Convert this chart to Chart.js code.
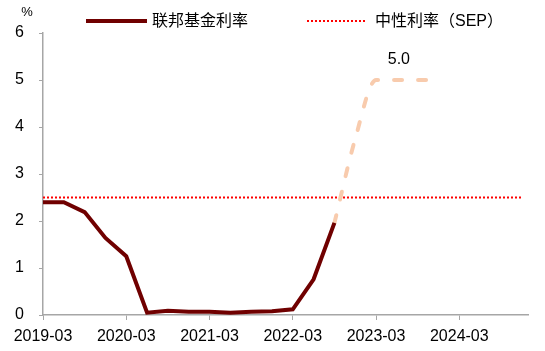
<!DOCTYPE html>
<html>
<head>
<meta charset="utf-8">
<script src="https://cdn.jsdelivr.net/npm/chart.js@4"></script>
<style>
    body { margin: 0; background: #fff; }
    #wrap { position: relative; width: 545px; height: 351px; font-family: "Liberation Sans", "Noto Sans CJK SC", sans-serif; }
    canvas { position: absolute; left: 0; top: 0; }
    .leg { position: absolute; font-size: 16px; color: #000; line-height: 20px; white-space: nowrap; }
    .swatch { position: absolute; }
</style>
</head>
<body>
<div id="wrap">
    <canvas id="chart" width="545" height="351"></canvas>
    <div class="swatch" style="left:86px; top:19px; width:61px; height:4px; background:#700000;"></div>
    <div class="leg" style="left:152px; top:11px;">联邦基金利率</div>
    <div class="swatch" style="left:307px; top:20px; width:58px; height:0; border-top:2px dotted #ff0000;"></div>
    <div class="leg" style="left:375px; top:11px;">中性利率（SEP）</div>
</div>
<script>
const quarters = [
    '2019-03', '2019-06', '2019-09', '2019-12',
    '2020-03', '2020-06', '2020-09', '2020-12',
    '2021-03', '2021-06', '2021-09', '2021-12',
    '2022-03', '2022-06', '2022-09', '2022-12',
    '2023-03', '2023-06', '2023-09', '2023-12',
    '2024-03', '2024-06', '2024-09', '2024-12'
];
// 联邦基金利率 (实际)
const fedRate = [2.4, 2.4, 2.19, 1.64, 1.25, 0.05, 0.09, 0.07, 0.07, 0.05, 0.07, 0.08, 0.12, 0.76, 1.96];
// 预测 (虚线)，从 2022-09 开始
const forecastStart = 14;
const forecast = [1.96, 3.75, 5.0, 5.0, 5.0, 5.0];
const forecastLabelIndex = 3; // 标注 5.0
// 中性利率
const sepRate = 2.5;
const yTicks = [0, 1, 2, 3, 4, 5, 6];

const AXIS_COLOR = '#a6a6a6';
const FONT = '"Liberation Sans", "Noto Sans CJK SC", sans-serif';

const fedData = fedRate.map((v, i) => ({ x: i, y: v }));
const forecastData = forecast.map((v, i) => ({ x: forecastStart + i, y: v }));
const sepData = quarters.map((q, i) => ({ x: i, y: sepRate }));

const labelsPlugin = {
    id: 'extraText',
    afterDraw(chart) {
        const c = chart.ctx;
        const xs = chart.scales.x;
        const ys = chart.scales.y;
        c.save();
        c.fillStyle = '#000';
        c.textAlign = 'center';
        c.textBaseline = 'middle';
        c.font = '13px ' + FONT;
        c.fillText('%', 27, 12);
        const i = forecastLabelIndex;
        c.font = '16px ' + FONT;
        c.fillText(forecast[i].toFixed(1), xs.getPixelForValue(forecastStart + i) + 2, ys.getPixelForValue(forecast[i]) - 20);
        c.restore();
    }
};

const ctx = document.getElementById('chart').getContext('2d');
new Chart(ctx, {
    type: 'line',
    data: {
        datasets: [
            {
                label: '联邦基金利率',
                data: fedData,
                borderColor: '#700000',
                borderWidth: 4,
                pointRadius: 0,
                tension: 0,
                fill: false,
            },
            {
                label: '预测',
                data: forecastData,
                borderColor: '#f8cbad',
                borderWidth: 4,
                borderDash: [8, 16],
                borderCapStyle: 'round',
                pointRadius: 0,
                cubicInterpolationMode: 'monotone',
                fill: false,
            },
            {
                label: '中性利率（SEP）',
                data: sepData,
                borderColor: '#ff0000',
                borderWidth: 2,
                borderDash: [2, 2],
                pointRadius: 0,
                fill: false,
            },
        ],
    },
    options: {
        responsive: false,
        animation: false,
        devicePixelRatio: 1,
        layout: { padding: { left: 0, top: 33, right: 17, bottom: 0 } },
        plugins: {
            legend: { display: false },
            tooltip: { enabled: false },
        },
        scales: {
            x: {
                type: 'linear',
                min: 0,
                max: 23.3,
                afterFit(scale) { scale.height = 36; },
                afterBuildTicks(scale) {
                    scale.ticks = quarters.map((q, i) => ({ value: i })).filter(t => t.value % 4 === 0);
                },
                ticks: {
                    includeBounds: false,
                    autoSkip: false,
                    maxRotation: 0,
                    padding: 7,
                    color: '#000',
                    font: { size: 16, family: FONT },
                    callback: (v) => quarters[v] || '',
                },
                grid: { display: true, drawOnChartArea: false, drawTicks: true, tickLength: 5, color: AXIS_COLOR },
                border: { display: true, color: AXIS_COLOR, width: 1.5 },
            },
            y: {
                min: 0,
                max: 6,
                afterFit(scale) { scale.width = 43; },
                afterBuildTicks(scale) {
                    scale.ticks = yTicks.map(v => ({ value: v }));
                },
                ticks: {
                    padding: 15,
                    color: '#000',
                    font: { size: 16, family: FONT },
                },
                grid: { display: true, drawOnChartArea: false, drawTicks: true, tickLength: 4, color: AXIS_COLOR },
                border: { display: true, color: AXIS_COLOR, width: 1.5 },
            },
        },
    },
    plugins: [labelsPlugin],
});
</script>
</body>
</html>
